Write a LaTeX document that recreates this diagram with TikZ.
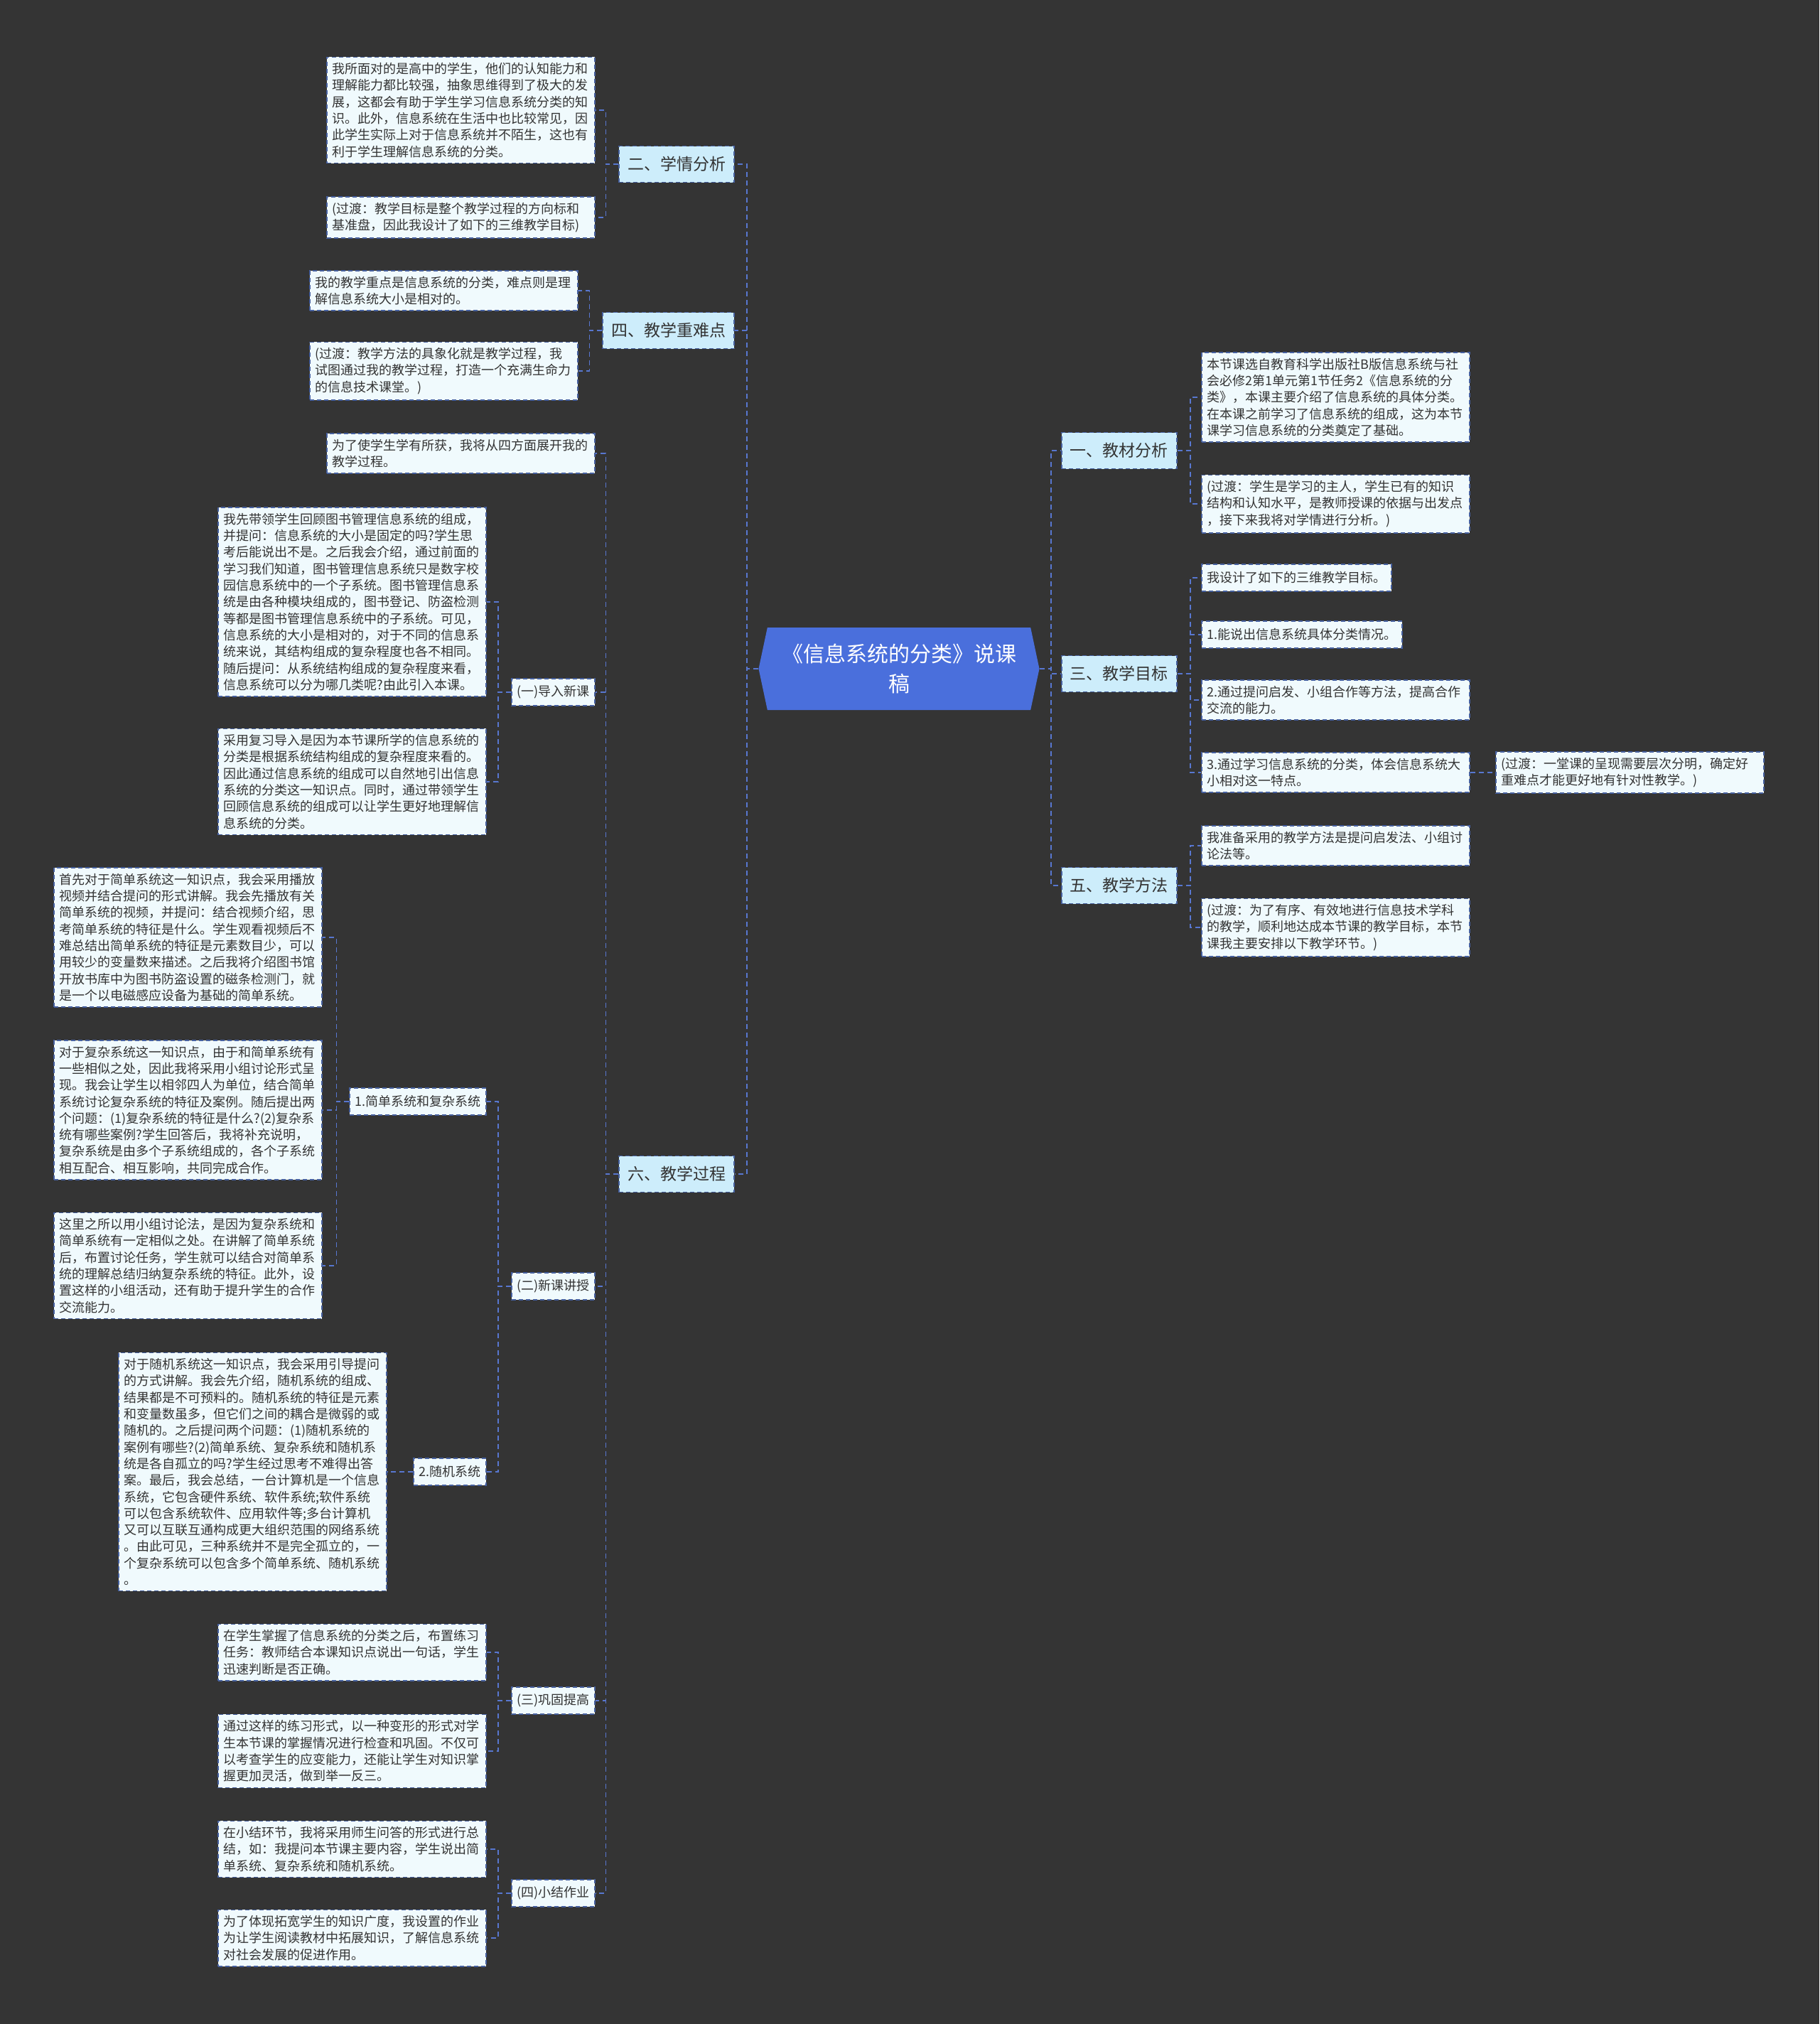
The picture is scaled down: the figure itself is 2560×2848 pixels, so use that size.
\documentclass[tikz,border=0pt]{standalone}
\usepackage{fontspec}
\setmainfont{Noto Sans CJK SC}
\usetikzlibrary{shapes.symbols}
\definecolor{bgc}{HTML}{343434}
\definecolor{rootc}{HTML}{4A6FDC}
\definecolor{topicc}{HTML}{CDEDFB}
\definecolor{leafc}{HTML}{F0FAFD}
\definecolor{boxc}{HTML}{46609F}
\definecolor{linkc}{HTML}{5877D0}
\definecolor{txtc}{HTML}{333333}
\begin{document}
\begin{tikzpicture}[x=1pt,y=-1pt,
  root/.style={signal, signal to=west and east, signal pointer angle=156,
    fill=rootc, text=white, minimum width=395pt, minimum height=116pt,
    align=center, inner sep=0pt, font=\fontsize{30}{42}\selectfont},
  topic/.style={rectangle, fill=topicc, draw=boxc, line width=1.6pt,
    dash pattern=on 6pt off 4pt, minimum height=51pt, inner xsep=12pt,
    text=txtc, font=\fontsize{23}{28}\selectfont},
  leaf/.style={rectangle, fill=leafc, draw=boxc, line width=1.6pt,
    dash pattern=on 6pt off 4pt, inner xsep=7.5pt, inner ysep=8pt,
    minimum height=38pt, align=left, text=txtc,
    font=\fontsize{18}{23.3}\selectfont},
  wide/.style={leaf, text width=362pt},
  link/.style={draw=linkc, line width=1.8pt, dash pattern=on 7pt off 5pt}]

    % 画布
    \fill[bgc] (0,0) rectangle (2560,2848);
    \useasboundingbox (0,0) rectangle (2560,2848);

    % 列位置
    \def\xTL{1034}   % 左侧主题右边
    \def\xTR{1493}   % 右侧主题左边
    \def\xA{838}     % 左侧第二层右边
    \def\xB{685}     % 左侧第三层右边
    \def\xR{1690}    % 右侧叶子左边
    \def\gap{18pt}   % 分支竖线距离

    % 中心
    \node[root] (root) at (1265,941) {《信息系统的分类》说课\\稿};

    % 主题
    \node[topic, anchor=east] (t2) at (\xTL,231) {二、学情分析};
    \node[topic, anchor=east] (t4) at (\xTL,465) {四、教学重难点};
    \node[topic, anchor=east] (t6) at (\xTL,1652) {六、教学过程};
    \node[topic, anchor=west] (t1) at (\xTR,634) {一、教材分析};
    \node[topic, anchor=west] (t3) at (\xTR,948) {三、教学目标};
    \node[topic, anchor=west] (t5) at (\xTR,1246) {五、教学方法};

    % 二、学情分析
    \node[wide, anchor=east] (a1) at (\xA,155) {我所面对的是高中的学生，他们的认知能力和\\理解能力都比较强，抽象思维得到了极大的发\\展，这都会有助于学生学习信息系统分类的知\\识。此外，信息系统在生活中也比较常见，因\\此学生实际上对于信息系统并不陌生，这也有\\利于学生理解信息系统的分类。};
    \node[wide, anchor=east] (a2) at (\xA,306) {(过渡：教学目标是整个教学过程的方向标和\\基准盘，因此我设计了如下的三维教学目标)};

    % 四、教学重难点
    \node[wide, anchor=east] (b1) at (814,409) {我的教学重点是信息系统的分类，难点则是理\\解信息系统大小是相对的。};
    \node[wide, anchor=east] (b2) at (814,522) {(过渡：教学方法的具象化就是教学过程，我\\试图通过我的教学过程，打造一个充满生命力\\的信息技术课堂。)};

    % 六、教学过程
    \node[wide, anchor=east] (c0) at (\xA,638) {为了使学生学有所获，我将从四方面展开我的\\教学过程。};
    \node[leaf, anchor=east] (s1) at (\xA,974) {(一)导入新课};
    \node[leaf, anchor=east] (s2) at (\xA,1810) {(二)新课讲授};
    \node[leaf, anchor=east] (s3) at (\xA,2393) {(三)巩固提高};
    \node[leaf, anchor=east] (s4) at (\xA,2664) {(四)小结作业};

    % (一)导入新课
    \node[wide, anchor=east] (d1) at (\xB,847) {我先带领学生回顾图书管理信息系统的组成，\\并提问：信息系统的大小是固定的吗?学生思\\考后能说出不是。之后我会介绍，通过前面的\\学习我们知道，图书管理信息系统只是数字校\\园信息系统中的一个子系统。图书管理信息系\\统是由各种模块组成的，图书登记、防盗检测\\等都是图书管理信息系统中的子系统。可见，\\信息系统的大小是相对的，对于不同的信息系\\统来说，其结构组成的复杂程度也各不相同。\\随后提问：从系统结构组成的复杂程度来看，\\信息系统可以分为哪几类呢?由此引入本课。};
    \node[wide, anchor=east] (d2) at (\xB,1100) {采用复习导入是因为本节课所学的信息系统的\\分类是根据系统结构组成的复杂程度来看的。\\因此通过信息系统的组成可以自然地引出信息\\系统的分类这一知识点。同时，通过带领学生\\回顾信息系统的组成可以让学生更好地理解信\\息系统的分类。};

    % (二)新课讲授
    \node[leaf, anchor=east] (g1) at (\xB,1550) {1.简单系统和复杂系统};
    \node[leaf, anchor=east] (g2) at (\xB,2071) {2.随机系统};
    \node[wide, anchor=east] (e1) at (454,1319) {首先对于简单系统这一知识点，我会采用播放\\视频并结合提问的形式讲解。我会先播放有关\\简单系统的视频，并提问：结合视频介绍，思\\考简单系统的特征是什么。学生观看视频后不\\难总结出简单系统的特征是元素数目少，可以\\用较少的变量数来描述。之后我将介绍图书馆\\开放书库中为图书防盗设置的磁条检测门，就\\是一个以电磁感应设备为基础的简单系统。};
    \node[wide, anchor=east] (e2) at (454,1562) {对于复杂系统这一知识点，由于和简单系统有\\一些相似之处，因此我将采用小组讨论形式呈\\现。我会让学生以相邻四人为单位，结合简单\\系统讨论复杂系统的特征及案例。随后提出两\\个问题：(1)复杂系统的特征是什么?(2)复杂系\\统有哪些案例?学生回答后，我将补充说明，\\复杂系统是由多个子系统组成的，各个子系统\\相互配合、相互影响，共同完成合作。};
    \node[wide, anchor=east] (e3) at (454,1781) {这里之所以用小组讨论法，是因为复杂系统和\\简单系统有一定相似之处。在讲解了简单系统\\后，布置讨论任务，学生就可以结合对简单系\\统的理解总结归纳复杂系统的特征。此外，设\\置这样的小组活动，还有助于提升学生的合作\\交流能力。};
    \node[wide, anchor=east] (f1) at (545,2071) {对于随机系统这一知识点，我会采用引导提问\\的方式讲解。我会先介绍，随机系统的组成、\\结果都是不可预料的。随机系统的特征是元素\\和变量数虽多，但它们之间的耦合是微弱的或\\随机的。之后提问两个问题：(1)随机系统的\\案例有哪些?(2)简单系统、复杂系统和随机系\\统是各自孤立的吗?学生经过思考不难得出答\\案。最后，我会总结，一台计算机是一个信息\\系统，它包含硬件系统、软件系统;软件系统\\可以包含系统软件、应用软件等;多台计算机\\又可以互联互通构成更大组织范围的网络系统\\。由此可见，三种系统并不是完全孤立的，一\\个复杂系统可以包含多个简单系统、随机系统\\。};

    % (三)巩固提高
    \node[wide, anchor=east] (h1) at (\xB,2325) {在学生掌握了信息系统的分类之后，布置练习\\任务：教师结合本课知识点说出一句话，学生\\迅速判断是否正确。};
    \node[wide, anchor=east] (h2) at (\xB,2464) {通过这样的练习形式，以一种变形的形式对学\\生本节课的掌握情况进行检查和巩固。不仅可\\以考查学生的应变能力，还能让学生对知识掌\\握更加灵活，做到举一反三。};

    % (四)小结作业
    \node[wide, anchor=east] (q1) at (\xB,2602) {在小结环节，我将采用师生问答的形式进行总\\结，如：我提问本节课主要内容，学生说出简\\单系统、复杂系统和随机系统。};
    \node[wide, anchor=east] (q2) at (\xB,2727) {为了体现拓宽学生的知识广度，我设置的作业\\为让学生阅读教材中拓展知识，了解信息系统\\对社会发展的促进作用。};

    % 一、教材分析
    \node[wide, anchor=west] (r1) at (\xR,559) {本节课选自教育科学出版社B版信息系统与社\\会必修2第1单元第1节任务2《信息系统的分\\类》，本课主要介绍了信息系统的具体分类。\\在本课之前学习了信息系统的组成，这为本节\\课学习信息系统的分类奠定了基础。};
    \node[wide, anchor=west] (r2) at (\xR,709) {(过渡：学生是学习的主人，学生已有的知识\\结构和认知水平，是教师授课的依据与出发点\\，接下来我将对学情进行分析。)};

    % 三、教学目标
    \node[leaf, anchor=west] (m0) at (\xR,813) {我设计了如下的三维教学目标。};
    \node[leaf, anchor=west] (m1) at (\xR,893) {1.能说出信息系统具体分类情况。};
    \node[wide, anchor=west] (m2) at (\xR,985) {2.通过提问启发、小组合作等方法，提高合作\\交流的能力。};
    \node[wide, anchor=west] (m3) at (\xR,1087) {3.通过学习信息系统的分类，体会信息系统大\\小相对这一特点。};
    \node[wide, anchor=west] (m4) at (2104,1087) {(过渡：一堂课的呈现需要层次分明，确定好\\重难点才能更好地有针对性教学。)};

    % 五、教学方法
    \node[wide, anchor=west] (p1) at (\xR,1190) {我准备采用的教学方法是提问启发法、小组讨\\论法等。};
    \node[wide, anchor=west] (p2) at (\xR,1305) {(过渡：为了有序、有效地进行信息技术学科\\的教学，顺利地达成本节课的教学目标，本节\\课我主要安排以下教学环节。)};

    % 分支点
    \coordinate (jl) at ([xshift=-16pt]root.west);
    \coordinate (jr) at ([xshift=16pt]root.east);
    \coordinate (j2) at ([xshift=-\gap]t2.west);
    \coordinate (j4) at ([xshift=-\gap]t4.west);
    \coordinate (j6) at ([xshift=-\gap]t6.west);
    \coordinate (j1) at ([xshift=\gap]t1.east);
    \coordinate (j3) at ([xshift=\gap]t3.east);
    \coordinate (j5) at ([xshift=\gap]t5.east);
    \coordinate (js1) at ([xshift=-\gap]s1.west);
    \coordinate (js2) at ([xshift=-\gap]s2.west);
    \coordinate (js3) at ([xshift=-\gap]s3.west);
    \coordinate (js4) at ([xshift=-\gap]s4.west);
    \coordinate (jg1) at ([xshift=-\gap]g1.west);

    % 连线
    \foreach \t in {t2,t4,t6} \draw[link] (root.west) -- (jl) |- (\t.east);
    \foreach \t in {t1,t3,t5} \draw[link] (root.east) -- (jr) |- (\t.west);
    \foreach \c in {a1,a2} \draw[link] (t2.west) -- (j2) |- (\c.east);
    \foreach \c in {b1,b2} \draw[link] (t4.west) -- (j4) |- (\c.east);
    \foreach \c in {c0,s1,s2,s3,s4} \draw[link] (t6.west) -- (j6) |- (\c.east);
    \foreach \c in {d1,d2} \draw[link] (s1.west) -- (js1) |- (\c.east);
    \foreach \c in {g1,g2} \draw[link] (s2.west) -- (js2) |- (\c.east);
    \foreach \c in {h1,h2} \draw[link] (s3.west) -- (js3) |- (\c.east);
    \foreach \c in {q1,q2} \draw[link] (s4.west) -- (js4) |- (\c.east);
    \foreach \c in {e1,e2,e3} \draw[link] (g1.west) -- (jg1) |- (\c.east);
    \draw[link] (g2.west) -- (f1.east);
    \foreach \c in {r1,r2} \draw[link] (t1.east) -- (j1) |- (\c.west);
    \foreach \c in {m0,m1,m2,m3} \draw[link] (t3.east) -- (j3) |- (\c.west);
    \draw[link] (m3.east) -- (m4.west);
    \foreach \c in {p1,p2} \draw[link] (t5.east) -- (j5) |- (\c.west);

\end{tikzpicture}
\end{document}
